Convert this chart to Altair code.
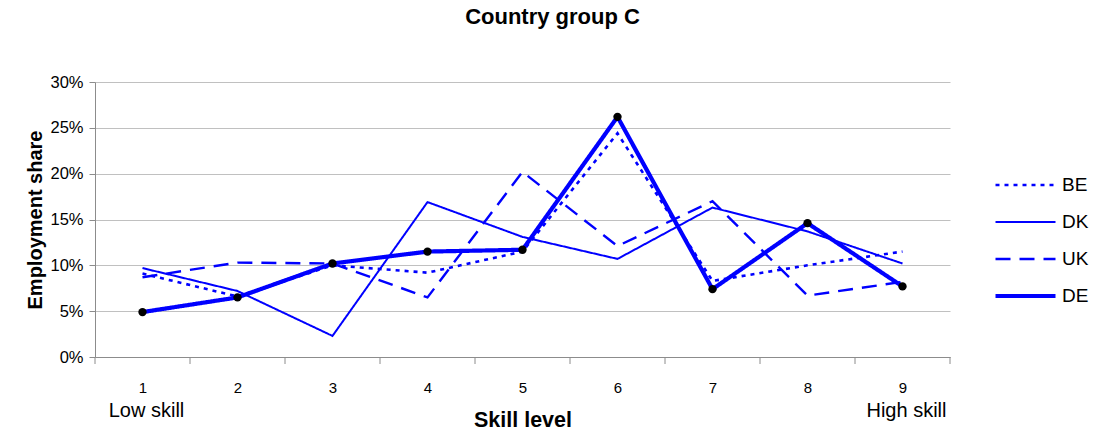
import altair as alt
import pandas as pd

# Employment share by skill level (1 = low skill, 9 = high skill)
skill = [1, 2, 3, 4, 5, 6, 7, 8, 9]
countries = ["BE", "DK", "UK", "DE"]
be = [0.091, 0.066, 0.100, 0.092, 0.115, 0.244, 0.083, 0.100, 0.115]
dk = [0.097, 0.072, 0.023, 0.169, 0.131, 0.107, 0.163, 0.137, 0.102]
uk = [0.087, 0.103, 0.102, 0.065, 0.202, 0.121, 0.170, 0.067, 0.082]
de = [0.049, 0.065, 0.102, 0.115, 0.117, 0.262, 0.074, 0.146, 0.077]
boundaries = [0.5, 1.5, 2.5, 3.5, 4.5, 5.5, 6.5, 7.5, 8.5, 9.5]

series = {"BE": be, "DK": dk, "UK": uk, "DE": de}
rows = [
    {"country": c, "skill": s, "share": v, "order": i}
    for i, c in enumerate(countries)
    for s, v in zip(skill, series[c])
]
df = pd.DataFrame(rows)

FONT = "Liberation Sans"
BLUE = "#0000ff"
AXIS_GREY = "#8c8c8c"

x_scale = alt.Scale(domain=[0.5, 9.5], nice=False, zero=False)
y_scale = alt.Scale(domain=[0, 0.3], nice=False)

legend = alt.Legend(
    title=None,
    orient="none",
    legendX=898,
    legendY=90,
    symbolType="stroke",
    symbolSize=3600,
    labelFontSize=19,
    labelFont=FONT,
    labelColor="black",
    labelOffset=4,
    rowPadding=11,
    clipHeight=26,
    padding=0,
)

lines = alt.Chart(df).mark_line().encode(
    x=alt.X(
        "skill:Q",
        scale=x_scale,
        axis=alt.Axis(
            values=skill,
            format="d",
            title="Skill level",
            ticks=False,
            grid=False,
            domainColor=AXIS_GREY,
            labelPadding=23,
            labelFontSize=15,
            labelFont=FONT,
            labelColor="black",
            titleFont=FONT,
            titleFontSize=21.5,
            titleFontWeight="bold",
            titlePadding=14,
            titleColor="black",
        ),
    ),
    y=alt.Y(
        "share:Q",
        scale=y_scale,
        axis=alt.Axis(
            values=[0, 0.05, 0.1, 0.15, 0.2, 0.25, 0.3],
            format=".0%",
            title="Employment share",
            tickColor=AXIS_GREY,
            tickSize=6,
            domainColor=AXIS_GREY,
            gridColor="#c0c0c0",
            labelFontSize=16.5,
            labelFont=FONT,
            labelColor="black",
            labelPadding=6,
            titleFont=FONT,
            titleFontSize=20,
            titleFontWeight="bold",
            titlePadding=4,
            titleColor="black",
        ),
    ),
    color=alt.Color(
        "country:N",
        scale=alt.Scale(domain=countries, range=[BLUE] * 4),
        legend=legend,
    ),
    strokeDash=alt.StrokeDash(
        "country:N",
        scale=alt.Scale(domain=countries, range=[[4, 5], [1, 0], [15, 9], [1, 0]]),
        legend=legend,
    ),
    strokeWidth=alt.StrokeWidth(
        "country:N",
        scale=alt.Scale(type="ordinal", domain=countries, range=[2.6, 2.0, 2.4, 4.2]),
        legend=legend,
    ),
    order="order:Q",
    detail="country:N",
)

de_points = alt.Chart(df[df["country"] == "DE"]).mark_circle(
    color="black", size=70, opacity=1
).encode(x=alt.X("skill:Q", scale=x_scale), y=alt.Y("share:Q", scale=y_scale))

# Tick marks between skill categories on the x axis
bound_ticks = alt.Chart(pd.DataFrame({"b": boundaries})).mark_rule(
    color=AXIS_GREY, strokeWidth=1
).encode(x=alt.X("b:Q", scale=x_scale), y=alt.value(275), y2=alt.value(282))

end_labels = alt.Chart(
    pd.DataFrame({"skill": [1, 9], "label": ["Low skill", "High skill"]})
).mark_text(fontSize=20, font=FONT, color="black", baseline="middle", dx=4).encode(
    x=alt.X("skill:Q", scale=x_scale),
    y=alt.value(329),
    text="label:N",
)

chart = (
    alt.layer(lines, de_points, bound_ticks, end_labels)
    .properties(
        width=855,
        height=275,
        padding={"left": 95, "top": 82, "right": 147, "bottom": 75},
        autosize=alt.AutoSizeParams(type="none"),
        title=alt.Title(
            "Country group C",
            font=FONT,
            fontSize=22,
            fontWeight="bold",
            color="black",
            offset=45,
            dx=30,
        ),
    )
    .configure_view(stroke=None)
)

chart.save("out.html", embed_options={"renderer": "svg", "actions": False})
